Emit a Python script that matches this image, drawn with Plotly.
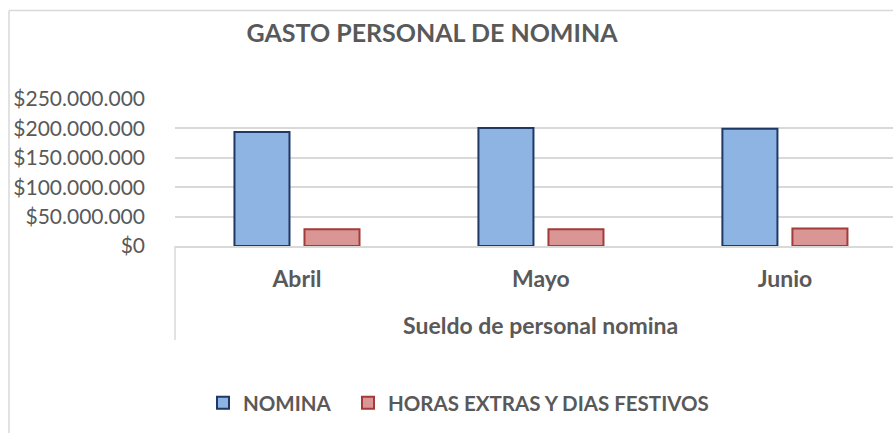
import plotly.graph_objects as go

# ---- data ----
categories = ["Abril", "Mayo", "Junio"]
group_label = "Sueldo de personal nomina"
series_names = ["NOMINA", "HORAS EXTRAS Y DIAS FESTIVOS"]
nomina = [194_000_000, 200_600_000, 199_500_000]
horas_extras = [28_600_000, 28_600_000, 29_800_000]
y_ticks = [0, 50_000_000, 100_000_000, 150_000_000, 200_000_000, 250_000_000]
y_tick_labels = ["$" + f"{v:,}".replace(",", ".") for v in y_ticks]
title_text = "GASTO PERSONAL DE NOMINA"

W, H = 893, 433
ML, MR, MT, MB = 175, 0, 99, 187
PW, PH = W - ML - MR, H - MT - MB


def px_x(px):
    return (px - ML) / PW


def px_y(py):
    return (H - MB - py) / PH


FONT = "Lato"
GREY = "#595959"
LINE = "#D9D9D9"

fig = go.Figure()
fig.add_bar(
    name=series_names[0], x=categories, y=nomina, legend="legend",
    marker=dict(color="#8EB4E3", line=dict(color="#1F3864", width=2)),
)
fig.add_bar(
    name=series_names[1], x=categories, y=horas_extras, legend="legend2",
    marker=dict(color="#D99694", line=dict(color="#A33B3A", width=2)),
)

legend_font = dict(family=FONT, size=20.5, color=GREY, weight="bold")

fig.update_layout(
    width=W, height=H,
    margin=dict(l=ML, r=MR, t=MT, b=MB, pad=0),
    paper_bgcolor="white", plot_bgcolor="white",
    barmode="group", bargap=0.426, bargroupgap=0.214,
    title=dict(
        text=title_text, x=432 / W, xanchor="center", y=1 - 33 / H, yanchor="middle",
        font=dict(family=FONT, size=25, color=GREY, weight="bold"),
    ),
    showlegend=True,
    legend=dict(
        orientation="h", x=px_x(203), xanchor="left", y=px_y(383), yanchor="top",
        font=legend_font, bgcolor="rgba(0,0,0,0)",
    ),
    legend2=dict(
        orientation="h", x=px_x(348), xanchor="left", y=px_y(383), yanchor="top",
        font=legend_font, bgcolor="rgba(0,0,0,0)",
    ),
    xaxis=dict(
        type="category", range=[-0.5, 2.443],
        showline=True, linecolor=LINE, linewidth=1.5,
        showgrid=False, ticks="", ticklabelstandoff=12,
        tickfont=dict(family=FONT, size=23, color=GREY, weight="bold"),
    ),
    yaxis=dict(
        range=[0, 250_000_000], tickvals=y_ticks, ticktext=y_tick_labels,
        showgrid=True, gridcolor=LINE, gridwidth=1.5,
        zeroline=False, showline=False, ticks="",
        ticklabelstandoff=29,
        tickfont=dict(family=FONT, size=21, color=GREY),
    ),
    annotations=[
        dict(text=group_label, xref="x", x=1, yref="paper", y=px_y(325),
             xanchor="center", yanchor="middle", showarrow=False,
             font=dict(family=FONT, size=23, color=GREY, weight="bold")),
    ],
    shapes=[
        # category group divider
        dict(type="line", xref="paper", yref="paper",
             x0=0, x1=0, y0=0, y1=px_y(340),
             line=dict(color=LINE, width=1.5)),
        # chart area border (left and top)
        dict(type="line", xref="paper", yref="paper",
             x0=px_x(9), x1=px_x(9), y0=px_y(10.5), y1=px_y(440),
             line=dict(color=LINE, width=1.5)),
        dict(type="line", xref="paper", yref="paper",
             x0=px_x(9), x1=px_x(900), y0=px_y(10.5), y1=px_y(10.5),
             line=dict(color=LINE, width=1.5)),
    ],
)

fig.write_html(
    "out.html",
    config={"displayModeBar": False},
    post_script="document.body.style.margin='0px';",
)
